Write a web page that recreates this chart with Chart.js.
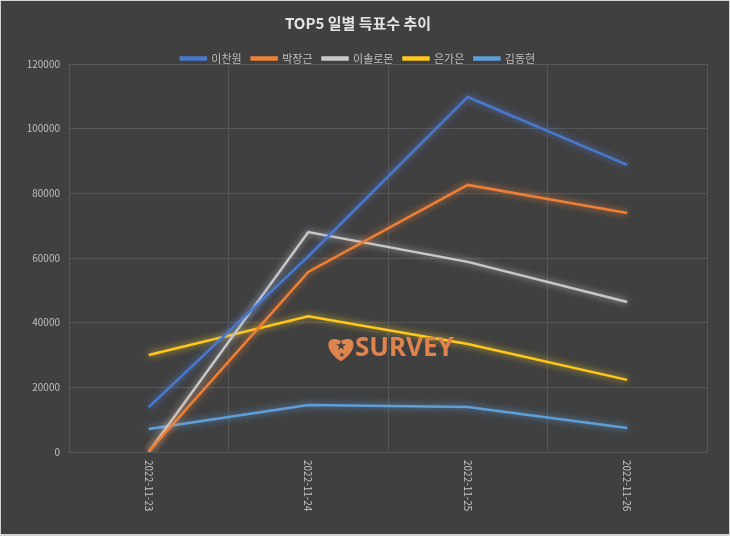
<!DOCTYPE html>
<html lang="ko">
<head>
<meta charset="UTF-8">
<title>TOP5 일별 득표수 추이</title>
<script src="https://cdn.jsdelivr.net/npm/chart.js"></script>
<style>
  html, body { margin: 0; padding: 0; background: #404040; }
  #wrap { position: relative; width: 730px; height: 536px; box-sizing: border-box;
          border: 1px solid #d4d4d4; border-bottom-width: 2px; background: #404040; overflow: hidden; }
  #chart { position: absolute; left: -1px; top: -1px; }
</style>
</head>
<body>
<div id="wrap"><canvas id="chart" width="730" height="536"></canvas></div>
<script>
// Daily vote counts for the top 5
const dates = ["2022-11-23", "2022-11-24", "2022-11-25", "2022-11-26"];
const names = ["이찬원", "박장근", "이솔로몬", "은가은", "김동현"];
const leeChanwon = [13900, 60500, 109800, 88800];
const parkJanggeun = [200, 55700, 82600, 73900];
const leeSolomon = [0, 68000, 58800, 46400];
const eunGaeun = [30000, 42000, 33400, 22300];
const kimDonghyun = [7100, 14500, 13900, 7400];
const yTicks = [0, 20000, 40000, 60000, 80000, 100000, 120000];

const seriesValues = [leeChanwon, parkJanggeun, leeSolomon, eunGaeun, kimDonghyun];
const colors = ["#4a78cc", "#ee7f36", "#c8c8c8", "#ffc81a", "#5f9fd8"];
const glows = ["rgba(90,140,240,0.8)", "rgba(255,140,60,0.8)", "rgba(230,230,230,0.7)",
               "rgba(255,215,40,0.85)", "rgba(100,170,240,0.8)"];

const FONT = "'Noto Sans CJK KR', 'Noto Sans', sans-serif";

// glow around each line
const glowPlugin = {
  id: "glow",
  beforeDatasetDraw(chart, args) {
    const ctx = chart.ctx;
    ctx.save();
    ctx.shadowColor = glows[args.index];
    ctx.shadowBlur = 7;
  },
  afterDatasetDraw(chart) {
    chart.ctx.restore();
  }
};

// keep the legend box short so the plot starts right under it
const legendFitPlugin = {
  id: "legendFit",
  beforeLayout(chart) {
    const lg = chart.legend;
    if (lg && !lg._shortFit) {
      const fit = lg.fit.bind(lg);
      lg.fit = function () { fit(); this.height = 21; };
      lg._shortFit = true;
    }
  }
};

// rotated date labels (top to bottom) and watermark
const decorPlugin = {
  id: "decor",
  afterDatasetsDraw(chart) {
    const ctx = chart.ctx;
    const x = chart.scales.x;
    const area = chart.chartArea;

    ctx.save();
    ctx.fillStyle = "#c4c4c4";
    ctx.font = "10px " + FONT;
    ctx.textAlign = "left";
    ctx.textBaseline = "middle";
    dates.forEach((d, i) => {
      ctx.save();
      ctx.translate(x.getPixelForValue(i), area.bottom + 8);
      ctx.rotate(Math.PI / 2);
      ctx.fillText(d, 0, 0);
      ctx.restore();
    });
    ctx.restore();

    // watermark
    const cx = (area.left + area.right) / 2 + 4;
    const cy = area.top + (area.bottom - area.top) * 0.725 + 3;
    ctx.save();
    ctx.fillStyle = "#e0844f";
    const hx = cx - 51, hy = cy - 1, s = 14;
    ctx.beginPath();
    ctx.moveTo(hx, hy + s);
    ctx.bezierCurveTo(hx - s * 1.3, hy + s * 0.2, hx - s * 1.1, hy - s * 1.0, hx, hy - s * 0.45);
    ctx.bezierCurveTo(hx + s * 1.1, hy - s * 1.0, hx + s * 1.3, hy + s * 0.2, hx, hy + s);
    ctx.fill();
    ctx.fillStyle = "#404040";
    ctx.font = "bold 13px 'DejaVu Sans'";
    ctx.textAlign = "center";
    ctx.textBaseline = "middle";
    ctx.fillText("★", hx, hy - 1);
    ctx.font = "bold 7px 'DejaVu Sans'";
    ctx.fillText("★", hx + 1, hy + 8);
    ctx.fillStyle = "#e0844f";
    ctx.font = "bold 26px 'Noto Sans', sans-serif";
    ctx.textAlign = "left";
    ctx.fillText("SURVEY", hx + 14, hy + 1);
    ctx.restore();
  }
};

new Chart(document.getElementById("chart"), {
  type: "line",
  data: {
    labels: dates,
    datasets: names.map((n, i) => ({
      label: n,
      data: seriesValues[i],
      borderColor: colors[i],
      backgroundColor: colors[i],
      borderWidth: 2.5,
      pointRadius: 0,
      tension: 0,
      fill: false
    }))
  },
  options: {
    responsive: false,
    animation: false,
    layout: { padding: { left: 9, right: 23, bottom: 84, top: 6 } },
    plugins: {
      title: {
        display: true,
        text: "TOP5 일별 득표수 추이",
        color: "#e4e4e4",
        font: { family: FONT, size: 15, weight: "bold" },
        padding: { top: 8, bottom: 11 }
      },
      legend: {
        display: true,
        labels: {
          color: "#bfbfbf",
          font: { family: FONT, size: 11 },
          boxWidth: 25,
          boxHeight: 2,
          padding: 10
        }
      },
      tooltip: { enabled: false }
    },
    scales: {
      x: {
        offset: true,
        grid: { color: "#575757", offset: true, drawTicks: false },
        border: { display: false },
        ticks: { display: false }
      },
      y: {
        min: 0,
        max: 120000,
        afterFit(s) { s.width = 60; },
        afterBuildTicks(s) { s.ticks = yTicks.map(v => ({ value: v })); },
        grid: { color: "#575757", drawTicks: false },
        border: { display: false },
        ticks: {
          color: "#bfbfbf",
          font: { family: FONT, size: 10 },
          padding: 9,
          callback: v => String(v)
        }
      }
    }
  },
  plugins: [legendFitPlugin, glowPlugin, decorPlugin]
});
</script>
</body>
</html>
